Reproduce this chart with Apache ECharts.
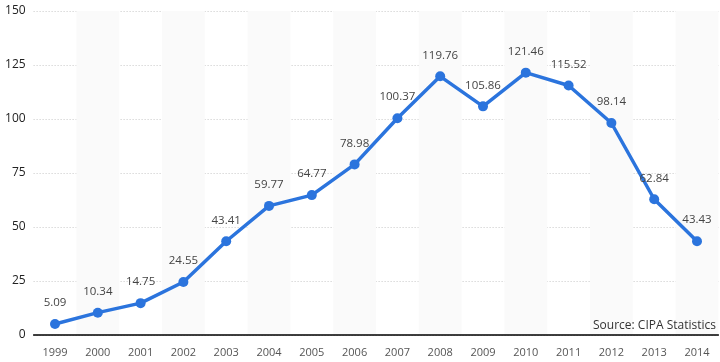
<!DOCTYPE html>
<html><head><meta charset="utf-8">
<script src="https://cdn.jsdelivr.net/npm/echarts@6/dist/echarts.min.js"></script>
<style>html,body{margin:0;padding:0;background:#fff}#c{width:720px;height:362px}</style>
</head><body><div id="c"></div>
<script>
const years = ['1999','2000','2001','2002','2003','2004','2005','2006','2007','2008','2009','2010','2011','2012','2013','2014'];
const values = [5.09,10.34,14.75,24.55,43.41,59.77,64.77,78.98,100.37,119.76,105.86,121.46,115.52,98.14,62.84,43.43];
const yTicks = {min:0,max:150,interval:25};
const chart = echarts.init(document.getElementById('c'));
chart.setOption({
  animation:false,
  grid:{left:33.6,right:1.6,top:11,bottom:27},
  xAxis:{type:'category',data:years,boundaryGap:true,
    axisLine:{lineStyle:{color:'#000',width:1.5}},
    axisTick:{show:false},
    axisLabel:{color:'#555',fontFamily:'Open Sans',fontSize:11,margin:12},
    splitArea:{show:true,areaStyle:{color:['rgba(255,255,255,0)','#fafafa']}}
  },
  yAxis:{type:'value',min:yTicks.min,max:yTicks.max,interval:yTicks.interval,
    axisLine:{show:false},axisTick:{show:false},
    axisLabel:{color:'#222',fontFamily:'Open Sans',fontSize:12,margin:8},
    splitLine:{lineStyle:{color:'#c8c8c8',type:[1,2]}}
  },
  series:[{type:'line',data:values,symbol:'circle',symbolSize:10,
    lineStyle:{color:'#2b74dd',width:3.5},itemStyle:{color:'#2b74dd'},
    label:{show:true,position:'top',distance:10,color:'#444',fontFamily:'Open Sans',fontSize:11.5}
  }],
  graphic:[{type:'text',x:716,y:320,z:100,style:{text:'Source: CIPA Statistics',fill:'#333',fontFamily:'Open Sans',fontSize:12,textAlign:'right',textVerticalAlign:'top'}}]
});
</script></body></html>
